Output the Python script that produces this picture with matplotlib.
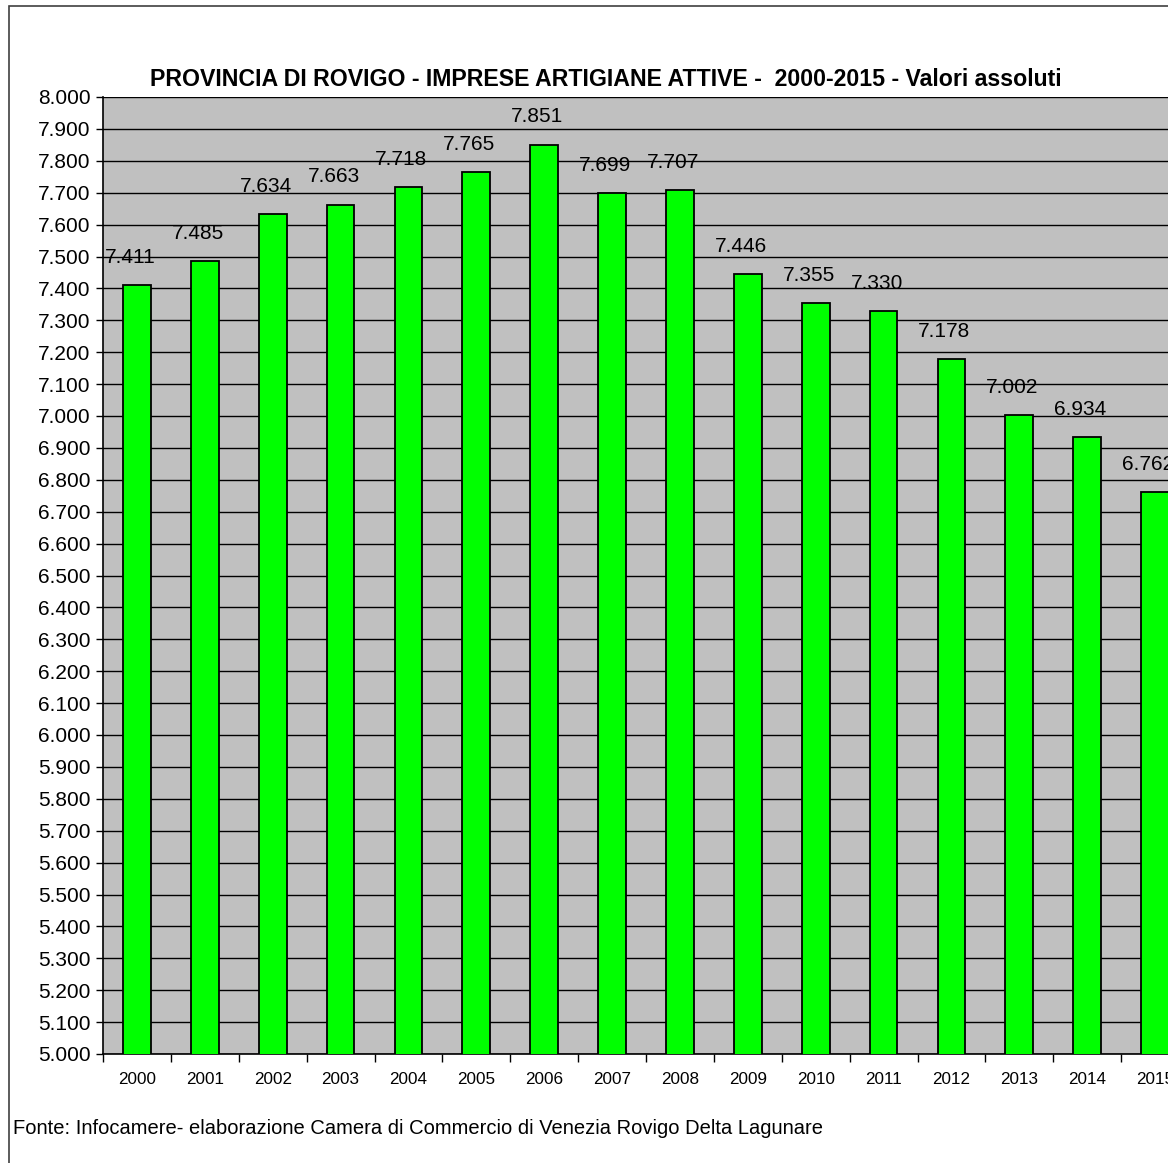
import numpy as np
import matplotlib.pyplot as plt
from matplotlib.patches import Rectangle

plt.rcParams['font.family'] = ['Liberation Sans', 'DejaVu Sans']

# data
years = ['2000', '2001', '2002', '2003', '2004', '2005', '2006', '2007',
         '2008', '2009', '2010', '2011', '2012', '2013', '2014', '2015']
values = [7411, 7485, 7634, 7663, 7718, 7765, 7851, 7699,
          7707, 7446, 7355, 7330, 7178, 7002, 6934, 6762]

title = 'PROVINCIA DI ROVIGO - IMPRESE ARTIGIANE ATTIVE -  2000-2015 - Valori assoluti'
source = 'Fonte: Infocamere- elaborazione Camera di Commercio di Venezia Rovigo Delta Lagunare'

W, H = 1168, 1163
fig = plt.figure(figsize=(W / 100, H / 100), dpi=100)

# chart frame (runs off the right and bottom edge like the original)
fig.patches.append(Rectangle((9 / W, -0.05), 1.2, 1 - 6 / H + 0.05,
                             transform=fig.transFigure, fill=False,
                             edgecolor='#404040', lw=1.2))

# plot area extends past the right border on purpose
left, right = 103 / W, 1189 / W
bottom, top = 1 - 1054 / H, 1 - 97 / H
ax = fig.add_axes([left, bottom, right - left, top - bottom])
ax.set_facecolor('#C0C0C0')

x = np.arange(len(years))
ax.bar(x, values, width=0.41, bottom=0, color='#00FF00',
       edgecolor='black', linewidth=1.3, zorder=3)

for xi, v in zip(x, values):
    ax.annotate(f'{v/1000:.3f}', (xi, v), xytext=(-5, 13),
                textcoords='offset points', ha='center', va='bottom',
                fontsize=15, zorder=4)

ax.set_xlim(-0.5, len(years) - 0.5)
ax.set_ylim(5000, 8000)
ax.set_yticks(np.arange(5000, 8001, 100))
ax.set_yticklabels([f'{t/1000:.3f}' for t in np.arange(5000, 8001, 100)],
                   fontsize=15)
ax.yaxis.grid(True, color='black', lw=1.0, zorder=1)

# ticks at category boundaries, labels in the middle
ax.set_xticks(np.arange(-0.5, len(years), 1))
ax.set_xticklabels([])
ax.set_xticks(x, minor=True)
ax.set_xticklabels(years, minor=True, fontsize=12.3)
ax.tick_params(axis='x', which='minor', length=0, pad=13)
ax.tick_params(axis='x', which='major', length=6, width=1, direction='out')
ax.tick_params(axis='y', length=5, width=1, direction='out', pad=4)

for s in ['top', 'right']:
    ax.spines[s].set_visible(False)
ax.spines['left'].set_linewidth(1.2)
ax.spines['bottom'].set_linewidth(1.2)

fig.text(606 / W, 1 - 80 / H, title, ha='center', va='center',
         fontsize=16.7, fontweight='bold')
fig.text(13 / W, 1 - 1128 / H, source, ha='left', va='center', fontsize=14.5)

fig.savefig('out.png', dpi=100)
